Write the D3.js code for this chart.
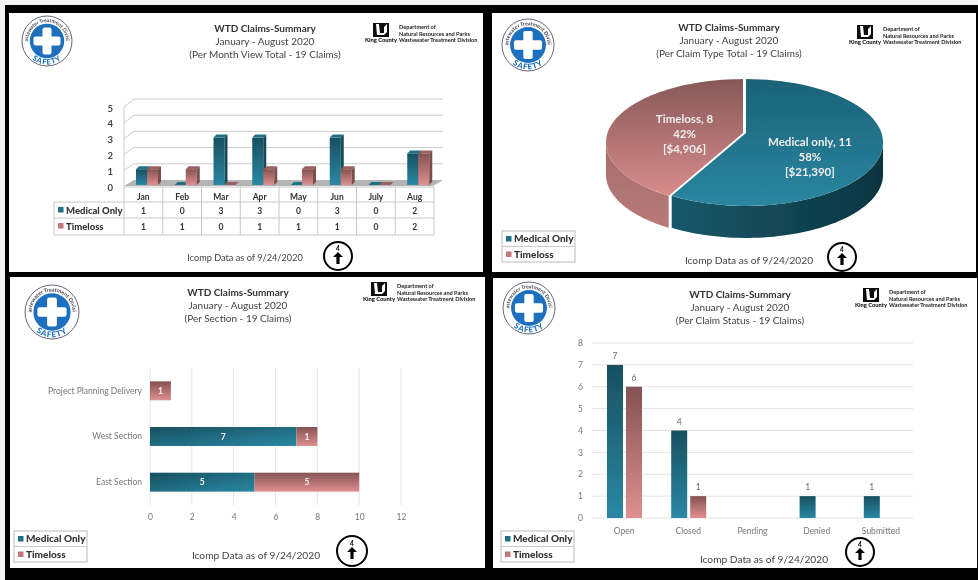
<!DOCTYPE html>
<html>
<head>
<meta charset="utf-8">
<script src="https://cdn.jsdelivr.net/npm/d3@7"></script>
<style>
    html, body { margin: 0; padding: 0; background: #f4f4f4; overflow: hidden; }
    svg { display: block; font-family: Lato, "Open Sans", sans-serif; }
</style>
</head>
<body>
<div id="chart"></div>
<script>

// month view
var months = ["Jan", "Feb", "Mar", "Apr", "May", "Jun", "July", "Aug"];
var monthMedical = [1, 0, 3, 3, 0, 3, 0, 2];
var monthTimeloss = [1, 1, 0, 1, 1, 1, 0, 2];
var monthTicks = [0, 1, 2, 3, 4, 5];

// claim type
var claimTypes = ["Medical only", "Timeloss"];
var claimCounts = [11, 8];
var claimPercents = ["58%", "42%"];
var claimCosts = ["[$21,390]", "[$4,906]"];

// per section
var sections = ["Project Planning Delivery", "West Section", "East Section"];
var sectionMedical = [0, 7, 5];
var sectionTimeloss = [1, 1, 5];
var sectionTicks = [0, 2, 4, 6, 8, 10, 12];

// per status
var statuses = ["Open", "Closed", "Pending", "Denied", "Submitted"];
var statusMedical = [7, 4, 0, 1, 1];
var statusTimeloss = [6, 1, 0, 0, 0];
var statusTicks = [0, 1, 2, 3, 4, 5, 6, 7, 8];

var titleMain = "WTD Claims-Summary";
var titlePeriod = "January - August 2020";
var titleNotes = ["(Per Month View Total - 19 Claims)", "(Per Claim Type Total - 19 Claims)",
    "(Per Section - 19 Claims)", "(Per Claim Status - 19 Claims)"];
var footerText = "Icomp Data as of 9/24/2020";
var legendNames = ["Medical Only", "Timeloss"];
var deptLines = ["Department of", "Natural Resources and Parks", "Wastewater Treatment Division"];

var svg = d3.select("#chart").append("svg")
    .attr("width", 978)
    .attr("height", 580);

var defs = svg.append("defs");

function addGradient(id, x2, y2, c1, c2) {
    var g = defs.append("linearGradient").attr("id", id)
        .attr("x1", 0).attr("y1", 0).attr("x2", x2).attr("y2", y2);
    g.append("stop").attr("offset", "0%").attr("stop-color", c1);
    g.append("stop").attr("offset", "100%").attr("stop-color", c2);
}
addGradient("teal", 0, 1, "#17505f", "#2a88a4");
addGradient("rose", 0, 1, "#845252", "#e08f8f");
addGradient("tealDiag", 1, 1, "#17505f", "#2a88a4");
addGradient("tealTop", 0, 1, "#1b6277", "#2a86a1");
addGradient("roseTop", 0, 1, "#875858", "#d88c8c");
addGradient("tealSide", 1, 0, "#17586a", "#0d3540");
addGradient("roseSide", 0, 1, "#a56c6c", "#b87a7a");

// the source picture is a soft screenshot
defs.append("filter").attr("id", "soft")
    .attr("x", 0).attr("y", 0).attr("width", 1).attr("height", 1)
    .append("feGaussianBlur").attr("stdDeviation", 0.6);

var root = svg.append("g").attr("filter", "url(#soft)");

root.append("rect").attr("x", 5).attr("y", 5).attr("width", 973).attr("height", 575).attr("fill", "#000");

function panelBox(x0, y0, x1, y1) {
    root.append("rect").attr("x", x0).attr("y", y0)
        .attr("width", x1 - x0).attr("height", y1 - y0).attr("fill", "#fff");
    return root.append("g");
}

function header(g, i, cx, y) {
    g.append("text").attr("x", cx).attr("y", y).attr("text-anchor", "middle")
        .attr("font-size", 10).attr("font-weight", 700).attr("fill", "#333").text(titleMain);
    g.append("text").attr("x", cx).attr("y", y + 13).attr("text-anchor", "middle")
        .attr("font-size", 10).attr("fill", "#444").text(titlePeriod);
    g.append("text").attr("x", cx).attr("y", y + 26).attr("text-anchor", "middle")
        .attr("font-size", 10).attr("fill", "#444").text(titleNotes[i]);
}

function seal(g, i, cx, cy, r) {
    var s = g.append("g").attr("transform", "translate(" + cx + "," + cy + ")");
    s.append("circle").attr("r", r).attr("fill", "#fff").attr("stroke", "#667").attr("stroke-width", 1);
    s.append("circle").attr("r", r * 0.69).attr("fill", "#1c6fbe");
    s.append("rect").attr("x", -r * 0.18).attr("y", -r * 0.54).attr("width", r * 0.36).attr("height", r * 1.08)
        .attr("rx", 2).attr("fill", "#fff");
    s.append("rect").attr("x", -r * 0.54).attr("y", -r * 0.18).attr("width", r * 1.08).attr("height", r * 0.36)
        .attr("rx", 2).attr("fill", "#fff");
    var ra = r * 0.76;
    defs.append("path").attr("id", "ringTop" + i)
        .attr("d", "M" + (-ra) + ",0A" + ra + "," + ra + " 0 0 1 " + ra + ",0");
    defs.append("path").attr("id", "ringBottom" + i)
        .attr("d", "M" + (-r * 0.94) + ",0A" + (r * 0.94) + "," + (r * 0.94) + " 0 0 0 " + (r * 0.94) + ",0");
    s.append("text").attr("font-size", r * 0.2).attr("font-weight", 700).attr("fill", "#445")
        .attr("text-anchor", "middle")
        .append("textPath").attr("href", "#ringTop" + i).attr("startOffset", "50%")
        .text("Wastewater Treatment Division");
    s.append("text").attr("font-size", r * 0.3).attr("font-weight", 900).attr("fill", "#1c6fbe")
        .attr("text-anchor", "middle").attr("letter-spacing", 0.8)
        .append("textPath").attr("href", "#ringBottom" + i).attr("startOffset", "50%")
        .text("SAFETY");
}

function kingCounty(g, x, y) {
    g.append("rect").attr("x", x).attr("y", y).attr("width", 16).attr("height", 14).attr("fill", "#111");
    g.append("path").attr("fill", "#fff")
        .attr("d", "M" + (x + 3) + "," + (y + 1) + "l3,0l1,9l4,0l0,-6l3,-3l0,8l-3,3l-7,0z");
    g.append("text").attr("x", x + 8).attr("y", y + 19).attr("text-anchor", "middle")
        .attr("font-size", 5.8).attr("font-weight", 900).attr("fill", "#111").text("King County");
    g.selectAll(".dept").data(deptLines).enter().append("text")
        .attr("x", x + 26).attr("y", function (d, k) { return y + 6 + k * 6.5; })
        .attr("font-size", 5.6).attr("font-weight", 700).attr("fill", "#222").text(function (d) { return d; });
}

function footer(g, cx, y, size, ix, iy, ir) {
    g.append("text").attr("x", cx).attr("y", y).attr("text-anchor", "middle")
        .attr("font-size", size).attr("fill", "#444").text(footerText);
    var ic = g.append("g").attr("transform", "translate(" + ix + "," + iy + ")");
    ic.append("circle").attr("r", ir).attr("fill", "#fff").attr("stroke", "#000").attr("stroke-width", 2);
    ic.append("text").attr("y", -5.5).attr("text-anchor", "middle").attr("font-size", 6.5)
        .attr("font-weight", 700).text("4");
    ic.append("path").attr("d", "M0,-4L5,1L1.6,1L1.6,8L-1.6,8L-1.6,1L-5,1Z").attr("fill", "#000");
}

function legend(g, x, y) {
    var box = g.append("g").attr("transform", "translate(" + x + "," + y + ")");
    box.append("rect").attr("width", 73).attr("height", 31)
        .attr("fill", "#fff").attr("stroke", "#bbb").attr("stroke-width", 1);
    box.append("line").attr("x1", 0).attr("x2", 73).attr("y1", 15.5).attr("y2", 15.5).attr("stroke", "#ccc");
    legendNames.forEach(function (name, k) {
        box.append("rect").attr("x", 4).attr("y", 5 + k * 15.5).attr("width", 5.5).attr("height", 5.5)
            .attr("fill", k == 0 ? "#1f7186" : "#c27878");
        box.append("text").attr("x", 12).attr("y", 11 + k * 15.5)
            .attr("font-size", 10).attr("font-weight", 900).attr("fill", "#333").text(name);
    });
}

function cleanAxis(a, size, color) {
    a.select(".domain").remove();
    a.selectAll(".tick line").remove();
    a.selectAll("text").attr("font-size", size).attr("fill", color).attr("font-family", "Lato, sans-serif");
}

//////////////////////////////Month view (3D bars and table)//////////////////////////////
function drawMonths() {
    var g = panelBox(9, 13, 483, 272);
    seal(g, 0, 47, 41, 25);
    header(g, 0, 265, 32);
    kingCounty(g, 373, 23);
    footer(g, 245, 261, 9.2, 338, 256, 14);

    var x = d3.scaleBand().domain(months).range([124, 434]);
    var yFront = d3.scaleLinear().domain([0, 5]).range([186, 107]);
    var yBack = d3.scaleLinear().domain([0, 5]).range([180, 99]);

    // wall lines
    g.selectAll(".wall").data(monthTicks.slice(1)).enter().append("path")
        .attr("fill", "none").attr("stroke", "#ccc").attr("stroke-width", 1)
        .attr("d", function (d) {
            return "M124," + yFront(d) + "L134," + yBack(d) + "L443," + yBack(d);
        });
    g.append("line").attr("x1", 124).attr("x2", 124).attr("y1", yFront(0)).attr("y2", yFront(5)).attr("stroke", "#ccc");

    // floor
    g.append("path").attr("fill", "#b4b4b4")
        .attr("d", "M124," + yFront(0) + "L134," + yBack(0) + "L443," + yBack(0) + "L433," + yFront(0) + "Z");

    var ax = g.append("g").attr("transform", "translate(116,1)")
        .call(d3.axisLeft(yFront).tickValues(monthTicks).tickFormat(d3.format("d")).tickSize(0));
    cleanAxis(ax, 9.5, "#444");
    ax.selectAll("text").attr("font-weight", 700);

    var barW = 11, dx = 3, dy = 3;
    function bars(values, offset, grad, topC, sideC) {
        var b = g.selectAll(".b" + grad).data(values).enter().append("g");
        b.append("rect")
            .attr("x", function (d, i) { return x(months[i]) + offset; })
            .attr("y", function (d) { return yFront(d) - 1; })
            .attr("width", barW)
            .attr("height", function (d) { return yFront(0) - yFront(d); })
            .attr("fill", "url(#" + grad + ")");
        b.append("path").attr("fill", topC)
            .attr("d", function (d, i) {
                var l = x(months[i]) + offset, t = yFront(d) - 1;
                return "M" + l + "," + t + "l" + dx + "," + (-dy) + "l" + barW + ",0l" + (-dx) + "," + dy + "Z";
            });
        b.append("path").attr("fill", sideC)
            .attr("d", function (d, i) {
                var r = x(months[i]) + offset + barW, t = yFront(d) - 1, h = yFront(0) - yFront(d);
                return "M" + r + "," + t + "l" + dx + "," + (-dy) + "l0," + h + "l" + (-dx) + "," + dy + "Z";
            });
    }
    bars(monthMedical, 12, "teal", "#1f7186", "#144b59");
    bars(monthTimeloss, 23, "rose", "#9a5f5f", "#7d4e4e");

    // table under the bars
    var rowY = [187, 202, 218, 235];
    var lines = g.append("g").attr("stroke", "#c8c8c8").attr("stroke-width", 1);
    lines.append("line").attr("x1", 124).attr("x2", 434).attr("y1", rowY[0]).attr("y2", rowY[0]);
    rowY.slice(1).forEach(function (r) {
        lines.append("line").attr("x1", 54).attr("x2", 434).attr("y1", r).attr("y2", r);
    });
    lines.append("line").attr("x1", 54).attr("x2", 54).attr("y1", rowY[1]).attr("y2", rowY[3]);
    x.domain().concat(["end"]).forEach(function (m) {
        var px = m == "end" ? 434 : x(m);
        lines.append("line").attr("x1", px).attr("x2", px).attr("y1", rowY[0]).attr("y2", rowY[3]);
    });
    g.selectAll(".mon").data(months).enter().append("text")
        .attr("x", function (d) { return x(d) + x.bandwidth() / 2; })
        .attr("y", 200).attr("text-anchor", "middle").attr("font-size", 8.5).attr("font-weight", 700)
        .attr("fill", "#333").text(function (d) { return d; });
    [monthMedical, monthTimeloss].forEach(function (vals, k) {
        g.selectAll(".v" + k).data(vals).enter().append("text")
            .attr("x", function (d, i) { return x(months[i]) + x.bandwidth() / 2; })
            .attr("y", 214 + k * 16).attr("text-anchor", "middle").attr("font-size", 8.5).attr("font-weight", 700)
            .attr("fill", "#333").text(function (d) { return d; });
        g.append("rect").attr("x", 58).attr("y", 207 + k * 16).attr("width", 5.5).attr("height", 5.5)
            .attr("fill", k == 0 ? "#1f7186" : "#c27878");
        g.append("text").attr("x", 66).attr("y", 214 + k * 16)
            .attr("font-size", 9.5).attr("font-weight", 900).attr("fill", "#333").text(legendNames[k]);
    });
}

//////////////////////////////Claim type pie//////////////////////////////
function drawPie() {
    var g = panelBox(492, 13, 976, 272);
    seal(g, 1, 528, 45, 26);
    header(g, 1, 729, 31);
    kingCounty(g, 857, 25);
    legend(g, 502, 231);
    footer(g, 749, 264, 10.2, 842, 257, 14);

    var cx = 745, cy = 133, rx = 135.5, ry = 62, k = 0.15, depth = 32;
    var slices = d3.pie().sort(null)(claimCounts);

    // perspective view of the pie circle
    function proj(a, r) {
        var u = Math.sin(a) * r, v = -Math.cos(a) * r, w = 1 - k * v;
        return [cx + rx * u / w, cy + ry * v / w];
    }
    function arcPts(a0, a1, r) {
        var n = 60;
        return d3.range(n + 1).map(function (i) { return proj(a0 + (a1 - a0) * i / n, r); });
    }
    var line = d3.line();
    var tangent = Math.acos(-k);
    var shifts = [1, -2];
    var tops = ["url(#tealTop)", "url(#roseTop)"];
    var sides = ["url(#tealSide)", "url(#roseSide)"];

    slices.forEach(function (s, i) {
        var sg = g.append("g").attr("transform", "translate(" + shifts[i] + ",0)");
        var a0 = Math.max(s.startAngle, tangent);
        var a1 = Math.min(s.endAngle, 2 * Math.PI - tangent);
        var front = arcPts(a0, a1, 1);
        var under = front.map(function (p) { return [p[0], p[1] + depth]; }).reverse();
        sg.append("path").attr("d", line(front.concat(under)) + "Z").attr("fill", sides[i]);
        var top = [[cx, cy]].concat(arcPts(s.startAngle, s.endAngle, 1));
        sg.append("path").attr("d", line(top) + "Z").attr("fill", tops[i]);

        var mid = (s.startAngle + s.endAngle) / 2;
        var c = proj(mid, 0.5);
        var lift = i == 0 ? 5 : -3;
        var labels = [claimTypes[i] + ", " + claimCounts[i], claimPercents[i], claimCosts[i]];
        sg.selectAll(".lab").data(labels).enter().append("text")
            .attr("x", c[0] + (i == 0 ? -3 : 6))
            .attr("y", function (d, n) { return c[1] + lift + n * 15; })
            .attr("text-anchor", "middle").attr("font-size", 11.5).attr("font-weight", 700)
            .attr("fill", "#f2eeee").text(function (d) { return d; });
    });
}

//////////////////////////////Per section stacked bars//////////////////////////////
function drawSections() {
    var g = panelBox(10, 277, 485, 568);
    seal(g, 2, 52, 312, 27);
    header(g, 2, 238, 296);
    kingCounty(g, 371, 282);
    legend(g, 14, 531);
    footer(g, 256, 559, 10.2, 352, 551, 15);

    var x = d3.scaleLinear().domain([0, 12]).range([150, 401]);
    var y = d3.scaleBand().domain(sections).range([368, 505]).paddingInner(0.585).paddingOuter(0.2925);

    g.selectAll(".grid").data(sectionTicks).enter().append("line")
        .attr("x1", function (d) { return x(d); }).attr("x2", function (d) { return x(d); })
        .attr("y1", 368).attr("y2", 505).attr("stroke", "#e4e4e4");

    var ax = g.append("g").attr("transform", "translate(0,511)")
        .call(d3.axisBottom(x).tickValues(sectionTicks).tickFormat(d3.format("d")).tickSize(0));
    cleanAxis(ax, 8.5, "#777");

    var ay = g.append("g").attr("transform", "translate(145,0)")
        .call(d3.axisLeft(y).tickSize(0));
    cleanAxis(ay, 8.5, "#777");

    var stacked = sections.map(function (s, i) {
        return { name: s, Medical: sectionMedical[i], Timeloss: sectionTimeloss[i] };
    });
    var layers = d3.stack().keys(["Medical", "Timeloss"])(stacked);
    var fills = ["url(#tealDiag)", "url(#rose)"];
    layers.forEach(function (layer, k) {
        var rows = layer.filter(function (d) { return d[1] > d[0]; });
        g.selectAll(".s" + k).data(rows).enter().append("rect")
            .attr("x", function (d) { return x(d[0]); })
            .attr("y", function (d) { return y(d.data.name); })
            .attr("width", function (d) { return x(d[1]) - x(d[0]); })
            .attr("height", y.bandwidth())
            .attr("fill", fills[k]);
        g.selectAll(".t" + k).data(rows).enter().append("text")
            .attr("x", function (d) { return (x(d[0]) + x(d[1])) / 2; })
            .attr("y", function (d) { return y(d.data.name) + y.bandwidth() / 2 + 3; })
            .attr("text-anchor", "middle").attr("font-size", 8.5).attr("font-weight", 700)
            .attr("fill", "#f4f0f0").text(function (d) { return d[1] - d[0]; });
    });
}

//////////////////////////////Per status grouped bars//////////////////////////////
function drawStatus() {
    var g = panelBox(493, 278, 977, 568);
    seal(g, 3, 529, 308, 26);
    header(g, 3, 740, 298);
    kingCounty(g, 863, 288);
    legend(g, 501, 531);
    footer(g, 764, 563, 10.2, 860, 552, 14);

    var x = d3.scaleBand().domain(statuses).range([592, 913]);
    var y = d3.scaleLinear().domain([0, 8]).range([518, 343]);

    g.selectAll(".grid").data(statusTicks).enter().append("line")
        .attr("x1", 592).attr("x2", 913)
        .attr("y1", function (d) { return y(d); }).attr("y2", function (d) { return y(d); })
        .attr("stroke", "#e4e4e4");

    var ay = g.append("g").attr("transform", "translate(586,0)")
        .call(d3.axisLeft(y).tickValues(statusTicks).tickFormat(d3.format("d")).tickSize(0));
    cleanAxis(ay, 8.5, "#777");
    var ax = g.append("g").attr("transform", "translate(0,525)")
        .call(d3.axisBottom(x).tickSize(0));
    cleanAxis(ax, 8.5, "#777");

    var bw = 16;
    function group(values, offset, fill, cls) {
        var rows = values.map(function (v, i) { return { cat: statuses[i], v: v }; })
            .filter(function (d) { return d.v > 0; });
        g.selectAll("." + cls).data(rows).enter().append("rect")
            .attr("x", function (d) { return x(d.cat) + offset; })
            .attr("y", function (d) { return y(d.v); })
            .attr("width", bw)
            .attr("height", function (d) { return y(0) - y(d.v); })
            .attr("fill", fill);
        g.selectAll("." + cls + "t").data(rows).enter().append("text")
            .attr("x", function (d) { return x(d.cat) + offset + bw / 2; })
            .attr("y", function (d) { return y(d.v) - 6; })
            .attr("text-anchor", "middle").attr("font-size", 8.5).attr("fill", "#666")
            .text(function (d) { return d.v; });
    }
    group(statusMedical, 15, "url(#teal)", "sm");
    group(statusTimeloss, 34, "url(#rose)", "st");
}

drawMonths();
drawPie();
drawSections();
drawStatus();

</script>
</body>
</html>
